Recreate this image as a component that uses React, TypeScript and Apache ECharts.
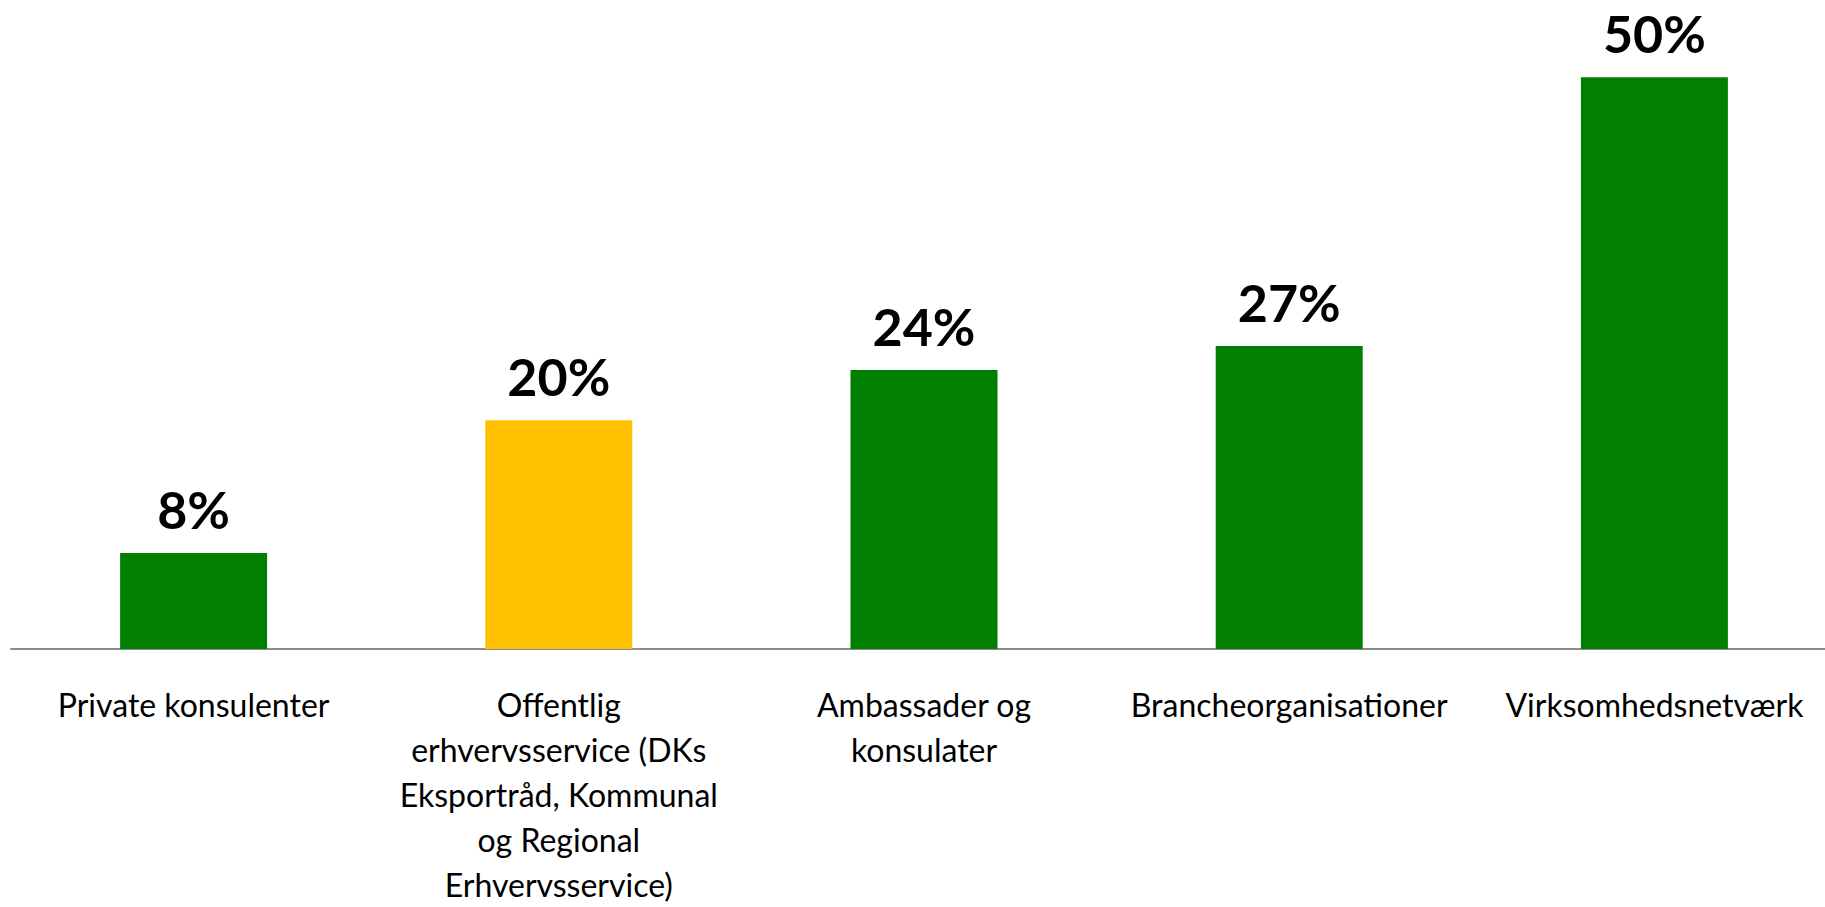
import React, { useEffect, useRef } from "react";
import * as echarts from "echarts";

const categories = [
  "Private konsulenter",
  "Offentlig\nerhvervsservice (DKs\nEksportråd, Kommunal\nog Regional\nErhvervsservice)",
  "Ambassader og\nkonsulater",
  "Brancheorganisationer",
  "Virksomhedsnetværk",
];
const values = [8.4, 20.0, 24.4, 26.5, 50.0];
const barColors = ["#007F00", "#FFC000", "#007F00", "#007F00", "#007F00"];

export default function App() {
  const ref = useRef<HTMLDivElement>(null);
  useEffect(() => {
    if (!ref.current) return;
    const chart = echarts.init(ref.current, null, { renderer: "svg" });
    chart.setOption({
      animation: false,
      backgroundColor: "#ffffff",
      grid: {
        left: 11,
        width: 1826,
        top: 20,
        bottom: 258,
        containLabel: false,
        outerBoundsMode: "none",
      },
      xAxis: {
        type: "category",
        data: categories,
        axisLine: { show: true, lineStyle: { color: "#8C8C8C", width: 2 } },
        axisTick: { show: false },
        axisLabel: {
          interval: 0,
          margin: 33,
          color: "#000000",
          fontFamily: "Lato",
          fontSize: 32,
          lineHeight: 45,
          align: "center",
        },
      },
      yAxis: {
        type: "value",
        min: 0,
        max: 55,
        show: false,
        splitLine: { show: false },
      },
      series: [
        {
          type: "bar",
          barWidth: 147,
          data: values.map((v, i) => ({ value: v, itemStyle: { color: barColors[i] } })),
          label: {
            show: true,
            position: "top",
            distance: 18,
            color: "#000000",
            fontFamily: "Lato",
            fontWeight: "bold",
            fontSize: 52,
            formatter: (p: any) => Math.round(p.value) + "%",
          },
        },
      ],
    });
    return () => chart.dispose();
  }, []);
  return (
    <div
      ref={ref}
      style={{ position: "absolute", left: 0, top: 0, width: 1825, height: 907 }}
    />
  );
}
